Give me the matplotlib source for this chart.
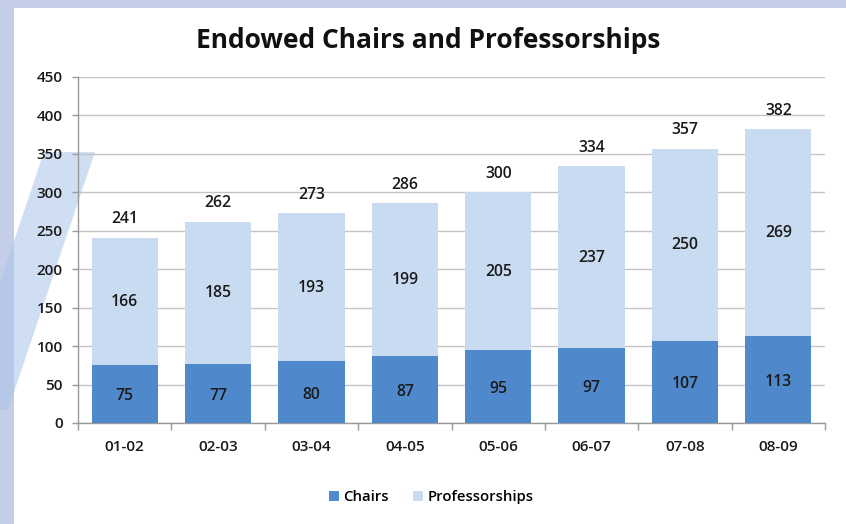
import matplotlib
matplotlib.use("Agg")
import matplotlib.pyplot as plt
from matplotlib.patches import Rectangle, Polygon
import numpy as np

plt.rcParams["font.family"] = ["Open Sans", "DejaVu Sans"]

years = ["01-02", "02-03", "03-04", "04-05", "05-06", "06-07", "07-08", "08-09"]
chairs = [75, 77, 80, 87, 95, 97, 107, 113]
professorships = [166, 185, 193, 199, 205, 237, 250, 269]
totals = [241, 262, 273, 286, 300, 334, 357, 382]

W, H = 846, 524
fig = plt.figure(figsize=(W / 100, H / 100), dpi=100)
fig.patch.set_facecolor("#c4cee8")

# white page + decorative stripe
fig.patches.append(Rectangle((14 / W, 0), 1 - 14 / W, 1 - 8 / H, transform=fig.transFigure,
                             facecolor="white", edgecolor="none", zorder=0))
stripe = [(44, 152), (95, 152), (8, 410), (-43, 410)]
fig.patches.append(Polygon([(x / W, 1 - y / H) for x, y in stripe], closed=True,
                           transform=fig.transFigure, facecolor="#a9c4e8", alpha=0.55,
                           edgecolor="none", zorder=1))

ax = fig.add_axes([78 / W, 1 - 423 / H, (825 - 78) / W, (423 - 77) / H])
ax.set_facecolor("none")
ax.set_zorder(2)

x = np.arange(len(years))
c_chairs = "#5089cb"
c_prof = "#c8dbf0"
ax.bar(x, chairs, width=0.71, color=c_chairs, label="Chairs", zorder=3)
ax.bar(x, professorships, width=0.71, bottom=chairs, color=c_prof,
       label="Professorships", zorder=3)

lab = dict(ha="center", va="center", fontsize=11.3, color="#1a1a1a", fontweight="semibold", zorder=4)
for i in range(len(years)):
    ax.text(x[i], chairs[i] / 2 - 3, str(chairs[i]), **lab)
    ax.text(x[i], chairs[i] + professorships[i] / 2 - 1, str(professorships[i]), **lab)
    ax.text(x[i], totals[i] + 24, str(totals[i]), **lab)

ax.set_xlim(-0.5, len(years) - 0.5)
ax.set_ylim(0, 450)
ax.set_yticks(range(0, 451, 50))
ax.set_xticks(x)
ax.set_xticklabels(years)
ax.set_xticks(np.arange(-0.5, len(years), 1), minor=True)
ax.tick_params(axis="x", which="major", length=0, pad=12, labelsize=11, labelcolor="#1a1a1a")
ax.tick_params(axis="x", which="minor", length=5, color="#9a9a9a", width=1)
ax.tick_params(axis="y", length=4, color="#9a9a9a", width=1, labelsize=11,
               labelcolor="#1a1a1a", pad=7)
for t in ax.get_xticklabels() + ax.get_yticklabels():
    t.set_fontweight("semibold")
ax.yaxis.grid(True, color="#c4c4c4", linewidth=1, zorder=0)
ax.set_axisbelow(True)
for s in ["top", "right"]:
    ax.spines[s].set_visible(False)
for s in ["left", "bottom"]:
    ax.spines[s].set_color("#9a9a9a")
    ax.spines[s].set_linewidth(1)

fig.text(428 / W, 1 - 40 / H, "Endowed Chairs and Professorships", ha="center",
         va="center", fontsize=19, fontweight="bold", color="#111111")

handles, labels = ax.get_legend_handles_labels()
leg = fig.legend(handles, labels, loc="center", bbox_to_anchor=(431 / W, 1 - 497 / H), ncol=2,
                 frameon=False, fontsize=10.7, handlelength=0.7, handleheight=0.7,
                 handletextpad=0.3, columnspacing=1.6)
for t in leg.get_texts():
    t.set_fontweight("semibold")

fig.savefig("out.png", dpi=100)
